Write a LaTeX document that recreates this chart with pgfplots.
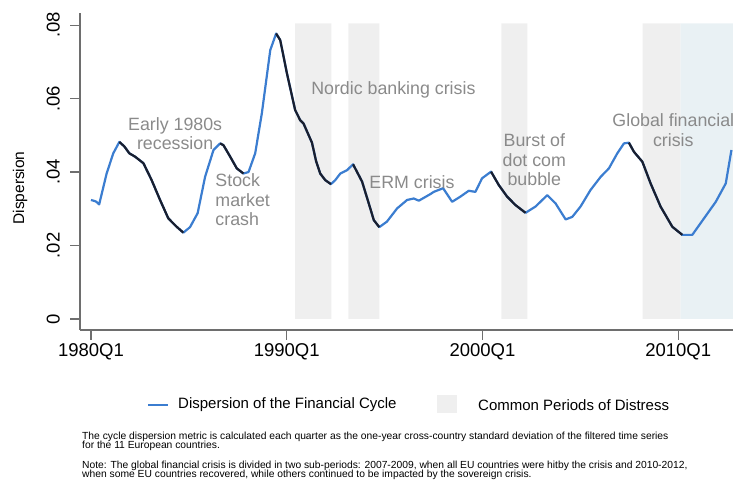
\documentclass[border=0pt]{standalone}
\usepackage{fontspec}
\setmainfont{Liberation Sans}
\usepackage{pgfplots}
\pgfplotsset{compat=1.18}
\usepackage{pgfplotstable}
\definecolor{lineblue}{HTML}{3B7DD0}
\definecolor{linedark}{HTML}{1A1F2E}
\definecolor{shadegray}{HTML}{EFEFEF}
\definecolor{shadeblue}{HTML}{E9F1F4}
\definecolor{annot}{HTML}{8A8A8A}
\definecolor{axisgray}{HTML}{6E6E6E}

\pgfplotstableread{
x y
1980.00 0.0324
1980.25 0.0320
1980.42 0.0312
1980.80 0.0396
1981.14 0.0451
1981.45 0.0482
1981.70 0.0470
1981.96 0.0451
1982.25 0.0442
1982.68 0.0424
1983.10 0.0378
1983.53 0.0324
1983.95 0.0274
1984.38 0.0251
1984.72 0.0235
1985.06 0.0250
1985.45 0.0288
1985.83 0.0387
1986.26 0.0460
1986.60 0.0478
1986.77 0.0473
1987.11 0.0442
1987.45 0.0410
1987.79 0.0396
1988.05 0.0400
1988.39 0.0451
1988.73 0.0560
1989.16 0.0732
1989.46 0.0777
1989.67 0.0759
1990.01 0.0669
1990.43 0.0569
1990.69 0.0541
1990.86 0.0532
1991.29 0.0480
1991.50 0.0430
1991.71 0.0396
1991.97 0.0378
1992.26 0.0367
1992.48 0.0378
1992.74 0.0396
1993.08 0.0405
1993.39 0.0421
1993.85 0.0374
1994.19 0.0315
1994.45 0.0269
1994.73 0.0250
1995.12 0.0265
1995.64 0.0301
1996.15 0.0324
1996.49 0.0328
1996.75 0.0322
1997.34 0.0340
1997.51 0.0346
1997.99 0.0356
1998.45 0.0319
1998.87 0.0333
1999.30 0.0349
1999.64 0.0346
1999.98 0.0383
2000.44 0.0401
2000.83 0.0365
2001.26 0.0333
2001.69 0.0310
2002.20 0.0289
2002.71 0.0306
2003.31 0.0337
2003.73 0.0315
2004.25 0.0271
2004.59 0.0278
2005.01 0.0306
2005.52 0.0351
2006.04 0.0387
2006.46 0.0410
2006.89 0.0451
2007.23 0.0478
2007.48 0.0480
2007.74 0.0455
2008.17 0.0428
2008.59 0.0369
2009.10 0.0306
2009.70 0.0251
2010.21 0.0229
2010.72 0.0229
2011.32 0.0274
2011.92 0.0319
2012.43 0.0369
2012.72 0.0460
}\disp

\begin{document}
\begin{tikzpicture}[x=1pt,y=1pt]
\useasboundingbox (0,0) rectangle (733,489);
\begin{axis}[
  at={(80pt,159pt)}, anchor=south west,
  scale only axis, width=653pt, height=317pt,
  xmin=1979.44, xmax=2012.8, ymin=-0.003, ymax=0.0833,
  axis x line=bottom, axis y line=left,
  axis line style={-, axisgray, line width=1.3pt},
  scaled y ticks=false, scaled x ticks=false,
  xtick={1980,1990,2000,2010},
  xticklabels={1980Q1,1990Q1,2000Q1,2010Q1},
  ytick={0,0.02,0.04,0.06,0.08},
  yticklabels={0,.02,.04,.06,.08},
  tick align=outside, major tick length=10pt,
  tick style={axisgray, line width=1.2pt},
  every tick label/.append style={font=\fontsize{18.5}{20}\selectfont},
  yticklabel style={rotate=90, anchor=south, inner sep=0pt},
  yticklabel shift=10pt,
  xticklabel style={anchor=north, inner sep=0pt},
  xticklabel shift=3pt,
  clip=true,
]
\addplot[fill=shadegray, draw=none] coordinates {(1990.43,0) (1990.43,0.0805) (1992.28,0.0805) (1992.28,0)} \closedcycle;
\addplot[fill=shadegray, draw=none] coordinates {(1993.15,0) (1993.15,0.0805) (1994.73,0.0805) (1994.73,0)} \closedcycle;
\addplot[fill=shadegray, draw=none] coordinates {(2000.97,0) (2000.97,0.0805) (2002.30,0.0805) (2002.30,0)} \closedcycle;
\addplot[fill=shadegray, draw=none] coordinates {(2008.18,0) (2008.18,0.0805) (2010.13,0.0805) (2010.13,0)} \closedcycle;
\addplot[fill=shadeblue, draw=none] coordinates {(2010.13,0) (2010.13,0.0805) (2012.9,0.0805) (2012.9,0)} \closedcycle;

\addplot[lineblue, line width=2.2pt, line join=round] table[x=x,y=y] {\disp};
\addplot[linedark, line width=2.2pt, line join=round, restrict x to domain=1981.44:1984.73] table[x=x,y=y] {\disp};
\addplot[linedark, line width=2.2pt, line join=round, restrict x to domain=1986.59:1987.80] table[x=x,y=y] {\disp};
\addplot[linedark, line width=2.2pt, line join=round, restrict x to domain=1989.45:1992.27] table[x=x,y=y] {\disp};
\addplot[linedark, line width=2.2pt, line join=round, restrict x to domain=1993.38:1994.74] table[x=x,y=y] {\disp};
\addplot[linedark, line width=2.2pt, line join=round, restrict x to domain=2000.43:2002.21] table[x=x,y=y] {\disp};
\addplot[linedark, line width=2.2pt, line join=round, restrict x to domain=2007.47:2010.22] table[x=x,y=y] {\disp};

\begin{scope}[every node/.style={text=annot, font=\fontsize{17.8}{19.5}\selectfont, align=center}]
\node at (axis cs:1984.3,0.0505) {Early 1980s\\recession};
\node[align=left] at (axis cs:1987.75,0.0324) {Stock\\market\\crash};
\node at (axis cs:1995.45,0.0623) {Nordic banking crisis};
\node at (axis cs:1996.4,0.0373) {ERM crisis};
\node at (axis cs:2002.65,0.0433) {Burst of\\dot com\\bubble};
\node at (axis cs:2009.75,0.0514) {Global financial\\crisis};
\end{scope}
\end{axis}

% y label
\node[rotate=90, font=\fontsize{15.5}{17}\selectfont] at (20,301) {Dispersion};

% legend
\draw[lineblue, line width=2.2pt] (148,84) -- (168,84);
\node[anchor=west, font=\fontsize{15}{17}\selectfont, inner sep=0pt] at (178,84) {Dispersion of the Financial Cycle};
\fill[shadegray] (437,76) rectangle (457,94);
\node[anchor=west, font=\fontsize{15}{17}\selectfont, inner sep=0pt] at (478,84) {Common Periods of Distress};

% notes
\begin{scope}[every node/.style={anchor=west, inner sep=0pt, font=\fontsize{10.3}{11}\selectfont}]
\node at (82,52) {The cycle dispersion metric is calculated each quarter as the one-year cross-country standard deviation of the filtered time series};
\node at (82,43) {for the 11 European countries.};
\node at (82,23.5) {Note: The global financial crisis is divided in two sub-periods: 2007-2009, when all EU countries were hitby the crisis and 2010-2012,};
\node at (82,14.5) {when some EU countries recovered, while others continued to be impacted by the sovereign crisis.};
\end{scope}
\end{tikzpicture}
\end{document}
